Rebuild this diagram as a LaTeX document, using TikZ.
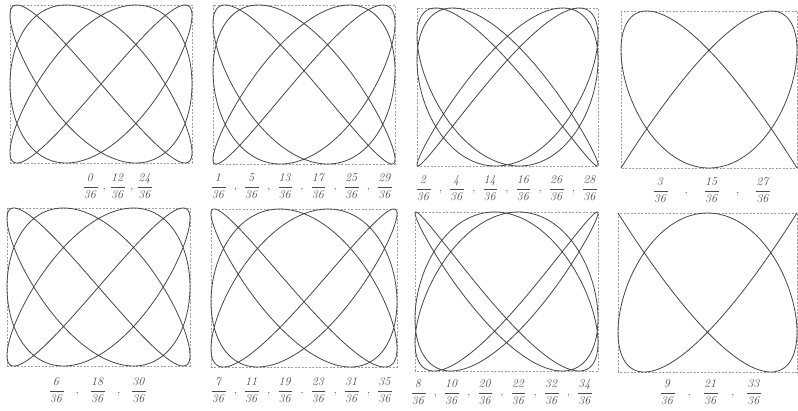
\documentclass[tikz,border=0pt]{standalone}
\usepackage{amsmath}
\usepackage{tikz}

\newcommand{\frk}[1]{\dfrac{\mathit{#1}}{\mathit{36}}}
\newcommand{\fsep}[1]{\hspace{#1}{,}\hspace{#1}}

\begin{document}
\begin{tikzpicture}[x=1pt, y=-1pt,
  frame/.style={gray!75, line width=0.5pt, dash pattern=on 2pt off 1.5pt},
  curve/.style={black!72, line width=0.8pt, line join=round},
  lbl/.style={font=\fontsize{12}{14}\selectfont, text=black!70, inner sep=1pt}]
  \useasboundingbox (0,0) rectangle (798,411);

  % frames and curves: x = sin 3t, y = sin(4t + k/36 of a period)
  \foreach \px/\py/\pw/\ph/\k in {10/5/182/158/0, 213/5/182/159/1, 417/8/181/158/2, 621/11/176/157/3,
                                  7/208/183/158/6, 211/209/186/158/7, 415/212/183/159/8, 618/213/179/159/9} {
    \draw[frame] (\px,\py) rectangle ++(\pw,\ph);
    \draw[curve] plot[domain=0:360, samples=721, variable=\s]
      ({\px+\pw/2+\pw/2*sin(3*\s)}, {\py+\ph/2-\ph/2*sin(4*\s+10*\k)});
  }

  \node[lbl] (lbl1) at (118,186) {$\frk{0}\fsep{4pt}\frk{12}\fsep{4pt}\frk{24}$};
  \node[lbl] (lbl2) at (302,186) {$\frk{1}\fsep{7pt}\frk{5}\fsep{7pt}\frk{13}\fsep{7pt}\frk{17}\fsep{7pt}\frk{25}\fsep{7pt}\frk{29}$};
  \node[lbl] (lbl3) at (507,188) {$\frk{2}\fsep{7pt}\frk{4}\fsep{7pt}\frk{14}\fsep{7pt}\frk{16}\fsep{7pt}\frk{26}\fsep{7pt}\frk{28}$};
  \node[lbl] (lbl4) at (712,190) {$\frk{3}\fsep{16pt}\frk{15}\fsep{16pt}\frk{27}$};
  \node[lbl] (lbl5) at (98,390) {$\frk{6}\fsep{11pt}\frk{18}\fsep{11pt}\frk{30}$};
  \node[lbl] (lbl6) at (302,390) {$\frk{7}\fsep{7pt}\frk{11}\fsep{7pt}\frk{19}\fsep{7pt}\frk{23}\fsep{7pt}\frk{31}\fsep{7pt}\frk{35}$};
  \node[lbl] (lbl7) at (502,392) {$\frk{8}\fsep{7pt}\frk{10}\fsep{7pt}\frk{20}\fsep{7pt}\frk{22}\fsep{7pt}\frk{32}\fsep{7pt}\frk{34}$};
  \node[lbl] (lbl8) at (711,392) {$\frk{9}\fsep{12pt}\frk{21}\fsep{12pt}\frk{33}$};
\end{tikzpicture}
\end{document}
